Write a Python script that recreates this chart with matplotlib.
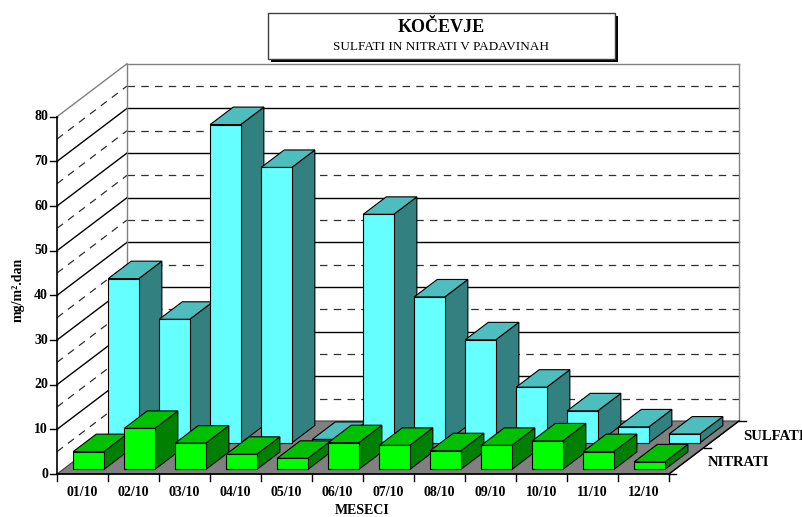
import matplotlib
matplotlib.use("Agg")
import matplotlib.pyplot as plt
from matplotlib.patches import Polygon, Rectangle

# data
months = ["01/10", "02/10", "03/10", "04/10", "05/10", "06/10",
          "07/10", "08/10", "09/10", "10/10", "11/10", "12/10"]
sulfati = [36.8, 27.7, 71.3, 61.7, 0.8, 51.2, 32.7, 23.1, 12.5, 7.2, 3.6, 2.0]
nitrati = [4.0, 9.2, 5.9, 3.4, 2.5, 6.0, 5.4, 4.2, 5.4, 6.4, 4.0, 1.7]
y_ticks = [0, 10, 20, 30, 40, 50, 60, 70, 80]

# geometry of the fake 3d box (pixels)
W, H = 803, 517
X0, Y0 = 57, 474          # front origin
CAT_PX = 51.0             # one category
VAL_PX = 4.466            # one unit of value
DX = 70 / CAT_PX          # depth offset in category units
DY = 53 / VAL_PX          # depth offset in value units
BAR_W = 0.6

plt.rcParams["font.family"] = ["Liberation Serif", "DejaVu Serif"]


def px(x):
    """pixel x -> data x"""
    return (x - X0) / CAT_PX


def py(y):
    """pixel y -> data y"""
    return (Y0 - y) / VAL_PX


def draw_bar(ax, i, v, t0, t1, colors, z):
    """draw one box: front, top and right side"""
    front, top, side = colors
    x0 = i + (1 - BAR_W) / 2
    x1 = x0 + BAR_W
    ax0, ay0 = t0 * DX, t0 * DY
    ax1, ay1 = t1 * DX, t1 * DY
    kw = dict(ec="black", lw=0.8, zorder=z, joinstyle="miter")
    ax.add_patch(Polygon([(x1 + ax0, ay0), (x1 + ax1, ay1), (x1 + ax1, v + ay1),
                          (x1 + ax0, v + ay0)], fc=side, **kw))
    ax.add_patch(Polygon([(x0 + ax0, v + ay0), (x1 + ax0, v + ay0),
                          (x1 + ax1, v + ay1), (x0 + ax1, v + ay1)], fc=top, **kw))
    ax.add_patch(Polygon([(x0 + ax0, ay0), (x1 + ax0, ay0), (x1 + ax0, v + ay0),
                          (x0 + ax0, v + ay0)], fc=front, **kw))


fig = plt.figure(figsize=(W / 100, H / 100), dpi=100)
ax = fig.add_axes([0, 0, 1, 1])
ax.set_xlim(px(0), px(W))
ax.set_ylim(py(H), py(0))
ax.axis("off")

n = len(months)

# floor
ax.add_patch(Polygon([(0, 0), (n, 0), (n + DX, DY), (DX, DY)],
                     fc="#808080", ec="#404040", lw=0.8, zorder=1))

# walls with grid lines
for v in range(5, 85, 5):
    if v == 80:
        kw = dict(color="#808080", lw=1.0, ls="-")
    elif v % 10 == 0:
        kw = dict(color="black", lw=1.0, ls="-")
    else:
        kw = dict(color="#303030", lw=0.9, ls=(0, (6, 5)))
    ax.plot([0, DX], [v, v + DY], zorder=1.5, **kw)
    ax.plot([DX, n + DX], [v + DY, v + DY], zorder=1.5, **kw)
ax.plot([DX, DX], [DY, 80 + DY], color="#808080", lw=1.0, zorder=1.5)
ax.plot([n + DX, n + DX], [DY, 80 + DY], color="#808080", lw=1.0, zorder=1.5)

# bars: back row first, then front row, left to right
for i, v in enumerate(sulfati):
    draw_bar(ax, i, v, 0.585, 0.915, ("#66FFFF", "#4DBDBD", "#338080"), 3 + i * 0.01)
for i, v in enumerate(nitrati):
    draw_bar(ax, i, v, 0.085, 0.415, ("#00FF00", "#00C000", "#008000"), 4 + i * 0.01)

# value axis
ax.plot([0, 0], [0, 80], color="black", lw=1.2, zorder=5)
for v in y_ticks:
    ax.plot([px(X0 - 7), 0], [v, v], color="black", lw=1.0, zorder=5)
    ax.text(px(X0 - 9), v, str(v), ha="right", va="center",
            fontsize=10, fontweight="bold")

# category axis
ax.plot([0, n], [0, 0], color="black", lw=1.2, zorder=5)
for i in range(n + 1):
    ax.plot([i, i], [0, py(Y0 + 7)], color="black", lw=1.0, zorder=5)
for i, m in enumerate(months):
    ax.text(i + 0.5, py(493), m, ha="center", va="center",
            fontsize=10, fontweight="bold")

# depth axis on the right
ax.plot([n, n + DX], [0, DY], color="black", lw=1.0, zorder=5)
for t in [0, 0.5, 1]:
    ax.plot([n + t * DX, n + t * DX + px(X0 + 7)], [t * DY, t * DY],
            color="black", lw=1.0, zorder=5)
ax.text(px(708), py(462), "NITRATI", ha="left", va="center",
        fontsize=10.5, fontweight="bold")
ax.text(px(743), py(436), "SULFATI", ha="left", va="center",
        fontsize=10.5, fontweight="bold")

# axis titles
ax.text(px(18), py(290), "mg/m².dan", rotation=90, ha="center", va="center",
        fontsize=10, fontweight="bold")
ax.text(px(362), py(510), "MESECI", ha="center", va="center",
        fontsize=10, fontweight="bold")

# title box with shadow
bx0, bx1, by0, by1 = 268, 615, 13, 59
ax.add_patch(Rectangle((px(bx0 + 3), py(by1 + 3)), px(bx1) - px(bx0),
                       py(by0) - py(by1), fc="black", ec="none", zorder=6))
ax.add_patch(Rectangle((px(bx0), py(by1)), px(bx1) - px(bx0),
                       py(by0) - py(by1), fc="white", ec="#404040", lw=1.0, zorder=7))
ax.text(px(441), py(27), "KOČEVJE", ha="center", va="center",
        fontsize=13, fontweight="bold", zorder=8)
ax.text(px(441), py(47), "SULFATI IN NITRATI V PADAVINAH", ha="center",
        va="center", fontsize=9.5, zorder=8)

fig.savefig("out.png", dpi=100)
